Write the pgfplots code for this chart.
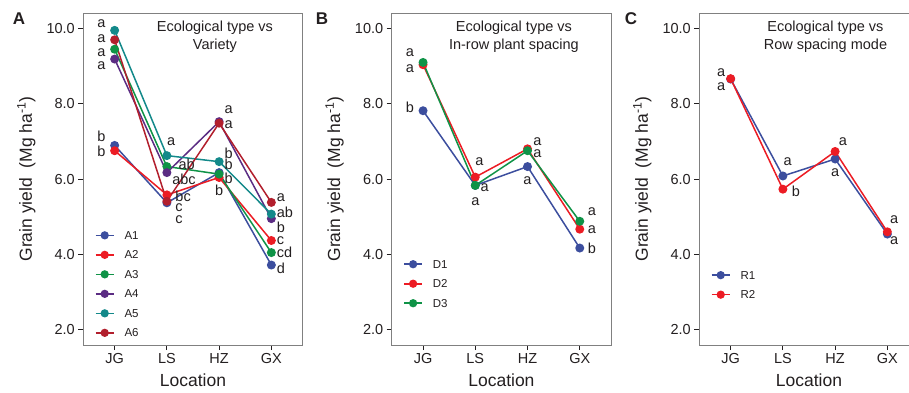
\documentclass[border=0pt]{standalone}
\usepackage{fontspec}
\setmainfont{Liberation Sans}
\usepackage{pgfplots}
\pgfplotsset{compat=1.18}
\definecolor{cblue}{HTML}{3C4E9E}
\definecolor{cred}{HTML}{EC1C24}
\definecolor{cgreen}{HTML}{0F9347}
\definecolor{cpurple}{HTML}{5B2C83}
\definecolor{cteal}{HTML}{13898A}
\definecolor{cdred}{HTML}{B21F2D}
\definecolor{txt}{HTML}{231F20}
\tikzset{lab/.style={font=\fontsize{14.5}{17}\selectfont, text=txt, inner sep=0pt}}
\pgfplotsset{
  panel/.style={
    scale only axis, width=219.4pt, height=332pt,
    xmin=-0.6, xmax=3.6, ymin=1.6, ymax=10.4,
    xtick={0,1,2,3}, xticklabels={JG,LS,HZ,GX},
    ytick={2,4,6,8,10},
    yticklabel style={/pgf/number format/.cd,fixed,fixed zerofill,precision=1},
    /pgf/number format/assume math mode=true,
    tick label style={font=\fontsize{14.5}{17}\selectfont, text=txt},
    tick pos=left, tick align=outside, major tick length=5pt,
    axis line style={draw=black!50, line width=1pt},
    every tick/.style={txt, line width=1pt},
    xlabel={Location},
    ylabel={Grain yield\ \ (Mg ha\textsuperscript{-1})},
    every axis x label/.style={at={(axis description cs:0.5,-0.105)}, anchor=center, font=\fontsize{17.5}{20}\selectfont, text=txt},
    every axis y label/.style={at={(axis description cs:-0.26,0.5)}, rotate=90, anchor=center, font=\fontsize{17.5}{20}\selectfont, text=txt},
    legend style={draw=none, fill=none, inner sep=0pt,
      font=\fontsize{11.5}{13}\selectfont, text=txt,
      nodes={inner sep=0pt, text height=8pt, text depth=0pt},
      row sep=11.5pt,
      /tikz/every odd column/.append style={column sep=10pt}},
    legend cell align=left,
    legend image code/.code={\draw[mark repeat=2,mark phase=2,#1,mark size=3.3pt,line width=1.6pt] plot coordinates {(0pt,0pt)(9pt,0pt)(18pt,0pt)};},
    every axis plot/.append style={line width=1.5pt, mark=*, mark size=3.7pt},
    clip=false,
  }
}
\begin{document}
\begin{tikzpicture}
\useasboundingbox (0pt,0pt) rectangle (909pt,392pt);
% ---------------- Panel A
\begin{axis}[panel, at={(83.3pt,47pt)}, anchor=south west,
  legend style={at={(axis description cs:0.052,0.343)}, anchor=north west}]
\addplot[cblue, mark options={fill=cblue}] coordinates {(0,6.89) (1,5.37) (2,6.17) (3,3.72)};
\addplot[cred, mark options={fill=cred}] coordinates {(0,6.75) (1,5.58) (2,6.04) (3,4.37)};
\addplot[cgreen, mark options={fill=cgreen}] coordinates {(0,9.44) (1,6.33) (2,6.13) (3,4.05)};
\addplot[cpurple, mark options={fill=cpurple}] coordinates {(0,9.18) (1,6.17) (2,7.52) (3,4.95)};
\addplot[cteal, mark options={fill=cteal}] coordinates {(0,9.94) (1,6.62) (2,6.46) (3,5.07)};
\addplot[cdred, mark options={fill=cdred}] coordinates {(0,9.69) (1,5.41) (2,7.48) (3,5.38)};
\legend{A1,A2,A3,A4,A5,A6}
\node[lab, align=center, font=\fontsize{14.5}{18}\selectfont] at (rel axis cs:0.6,0.928) {Ecological type vs\\Variety};
\node[lab,anchor=east] at (axis cs:-0.17,10.13) {a};
\node[lab,anchor=east] at (axis cs:-0.17,9.71) {a};
\node[lab,anchor=east] at (axis cs:-0.17,9.34) {a};
\node[lab,anchor=east] at (axis cs:-0.17,9.0) {a};
\node[lab,anchor=east] at (axis cs:-0.17,7.14) {b};
\node[lab,anchor=east] at (axis cs:-0.17,6.73) {b};
\node[lab,anchor=west] at (axis cs:1.0,6.98) {a};
\node[lab,anchor=west] at (axis cs:1.22,6.40) {ab};
\node[lab,anchor=west] at (axis cs:1.1,5.98) {abc};
\node[lab,anchor=west] at (axis cs:1.16,5.53) {bc};
\node[lab,anchor=west] at (axis cs:1.16,5.23) {c};
\node[lab,anchor=west] at (axis cs:1.16,4.93) {c};
\node[lab,anchor=west] at (axis cs:2.1,7.83) {a};
\node[lab,anchor=west] at (axis cs:2.1,7.44) {a};
\node[lab,anchor=west] at (axis cs:2.1,6.67) {b};
\node[lab,anchor=west] at (axis cs:2.1,6.40) {b};
\node[lab,anchor=west] at (axis cs:2.1,6.03) {b};
\node[lab] at (axis cs:2.0,5.69) {b};
\node[lab,anchor=west] at (axis cs:3.1,5.50) {a};
\node[lab,anchor=west] at (axis cs:3.1,5.13) {ab};
\node[lab,anchor=west] at (axis cs:3.1,4.73) {b};
\node[lab,anchor=west] at (axis cs:3.1,4.36) {c};
\node[lab,anchor=west] at (axis cs:3.1,4.05) {cd};
\node[lab,anchor=west] at (axis cs:3.1,3.62) {d};
\end{axis}
% ---------------- Panel B
\begin{axis}[panel, at={(391.7pt,47pt)}, anchor=south west,
  legend style={at={(axis description cs:0.052,0.256)}, anchor=north west}]
\addplot[cblue, mark options={fill=cblue}] coordinates {(0,7.81) (1,5.83) (2,6.33) (3,4.17)};
\addplot[cred, mark options={fill=cred}] coordinates {(0,9.03) (1,6.05) (2,6.80) (3,4.67)};
\addplot[cgreen, mark options={fill=cgreen}] coordinates {(0,9.09) (1,5.83) (2,6.75) (3,4.88)};
\legend{D1,D2,D3}
\node[lab, align=center, font=\fontsize{14.5}{18}\selectfont] at (rel axis cs:0.557,0.928) {Ecological type vs\\In-row plant spacing};
\node[lab,anchor=east] at (axis cs:-0.17,9.34) {a};
\node[lab,anchor=east] at (axis cs:-0.17,8.92) {a};
\node[lab,anchor=east] at (axis cs:-0.17,7.89) {b};
\node[lab,anchor=west] at (axis cs:1.0,6.45) {a};
\node[lab,anchor=west] at (axis cs:1.1,5.77) {a};
\node[lab] at (axis cs:1.0,5.40) {a};
\node[lab,anchor=west] at (axis cs:2.11,6.98) {a};
\node[lab,anchor=west] at (axis cs:2.11,6.66) {a};
\node[lab] at (axis cs:2.0,5.95) {a};
\node[lab,anchor=west] at (axis cs:3.15,5.13) {a};
\node[lab,anchor=west] at (axis cs:3.15,4.65) {a};
\node[lab,anchor=west] at (axis cs:3.15,4.15) {b};
\end{axis}
% ---------------- Panel C
\begin{axis}[panel, at={(699.3pt,47pt)}, anchor=south west,
  legend style={at={(axis description cs:0.052,0.223)}, anchor=north west}]
\addplot[cblue, mark options={fill=cblue}] coordinates {(0,8.65) (1,6.08) (2,6.53) (3,4.54)};
\addplot[cred, mark options={fill=cred}] coordinates {(0,8.66) (1,5.73) (2,6.73) (3,4.60)};
\legend{R1,R2}
\node[lab, align=center, font=\fontsize{14.5}{18}\selectfont] at (rel axis cs:0.575,0.928) {Ecological type vs\\Row spacing mode};
\node[lab,anchor=east] at (axis cs:-0.1,8.81) {a};
\node[lab,anchor=east] at (axis cs:-0.1,8.44) {a};
\node[lab,anchor=west] at (axis cs:1.01,6.45) {a};
\node[lab,anchor=west] at (axis cs:1.17,5.67) {b};
\node[lab,anchor=west] at (axis cs:2.07,6.98) {a};
\node[lab] at (axis cs:2.0,6.16) {a};
\node[lab,anchor=west] at (axis cs:3.05,4.92) {a};
\node[lab,anchor=west] at (axis cs:3.05,4.37) {a};
\end{axis}
\node[font=\bfseries\fontsize{17}{20}\selectfont, text=txt] at (19pt,373pt) {A};
\node[font=\bfseries\fontsize{17}{20}\selectfont, text=txt] at (322pt,373pt) {B};
\node[font=\bfseries\fontsize{17}{20}\selectfont, text=txt] at (631pt,373pt) {C};
\end{tikzpicture}
\end{document}
